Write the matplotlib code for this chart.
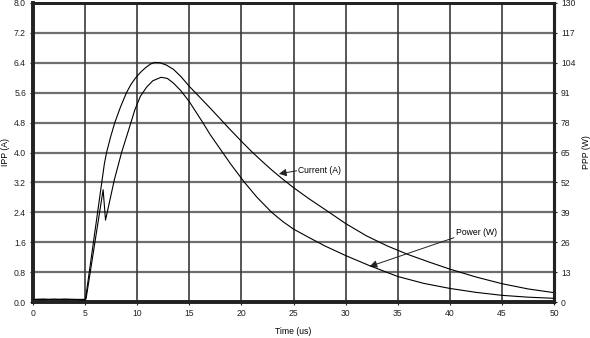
import matplotlib
matplotlib.use("Agg")
import matplotlib.pyplot as plt

plt.rcParams['font.family'] = ['Liberation Sans', 'DejaVu Sans']

# Peak pulse current (A) versus time (us)
t_current = [0, 1, 2, 3, 4, 5.0, 5.05, 6.85, 7.06, 7.45, 7.85, 8.4, 8.97, 9.4, 9.8,
             10.3, 10.8, 11.3, 11.7, 12.2, 12.8, 13.5, 14.2, 15.0, 16.0, 17.0, 18.0,
             19.0, 20.0, 21.0, 22.0, 23.0, 24.0, 25.0, 26.5, 28.0, 30.0, 32.0, 34.0,
             36.0, 38.0, 40.0, 42.5, 45.0, 47.5, 50.0]
current_a = [0.07, 0.08, 0.06, 0.08, 0.07, 0.07, 0.10, 3.70, 4.00, 4.42, 4.80, 5.22,
             5.60, 5.82, 5.98, 6.14, 6.27, 6.37, 6.41, 6.40, 6.34, 6.22, 6.03, 5.77,
             5.48, 5.19, 4.89, 4.59, 4.30, 4.02, 3.76, 3.51, 3.28, 3.06, 2.76, 2.48,
             2.10, 1.77, 1.50, 1.27, 1.07, 0.88, 0.67, 0.49, 0.35, 0.25]

# Peak pulse power (W) versus time (us)
t_power = [0, 1, 2, 3, 4, 5.0, 5.1, 6.73, 6.96, 7.8, 8.5, 9.2, 9.77, 10.3, 10.9,
           11.5, 12.3, 12.9, 13.5, 14.2, 15.0, 15.6, 16.3, 17.0, 18.0, 19.0, 20.3,
           21.5, 22.9, 24.0, 25.0, 26.5, 28.0, 30.0, 32.3, 35.0, 37.5, 40.0, 42.5,
           45.0, 47.5, 50.0]
power_w = [1.1, 1.0, 1.3, 1.0, 1.1, 0.8, 1.6, 48.8, 35.6, 53.0, 65.0, 75.1, 83.5,
           89.4, 93.4, 96.2, 97.7, 97.2, 95.1, 91.8, 87.1, 82.9, 78.0, 72.8, 66.3,
           59.8, 52.0, 45.5, 39.0, 34.9, 31.7, 28.0, 24.4, 20.2, 15.8, 11.1, 8.1,
           5.9, 4.2, 2.9, 2.1, 1.6]

x_ticks = list(range(0, 55, 5))
ipp_ticks = [0.0, 0.8, 1.6, 2.4, 3.2, 4.0, 4.8, 5.6, 6.4, 7.2, 8.0]
ppp_ticks = [0, 13, 26, 39, 52, 65, 78, 91, 104, 117, 130]

fig = plt.figure(figsize=(5.9, 3.38), dpi=100)
ax = fig.add_axes([33 / 590, 36 / 338, 521 / 590, 299 / 338])
ax2 = ax.twinx()

ax.set_xlim(0, 50)
ax.set_ylim(0, 8)
ax2.set_ylim(0, 130)

ax.set_xticks(x_ticks)
ax.set_yticks(ipp_ticks)
ax.set_yticklabels([f"{v:.1f}" for v in ipp_ticks])
ax2.set_yticks(ppp_ticks)

# grid: grey horizontals, darker verticals
for yv in ipp_ticks[1:-1]:
    ax.axhline(yv, color='#6e6e6e', lw=1.6, zorder=1)
for xv in x_ticks[1:-1]:
    ax.axvline(xv, color='#3a3a3a', lw=1.2, zorder=1)

ax.plot(t_current, current_a, color='black', lw=0.8, zorder=3)
ax2.plot(t_power, power_w, color='black', lw=0.8, zorder=3)

for side, w in (('left', 2.6), ('bottom', 2.6), ('right', 2.2), ('top', 2.0)):
    for a in (ax, ax2):
        a.spines[side].set_linewidth(w)
        a.spines[side].set_color('#222222')

ax.tick_params(axis='both', labelsize=6.2, length=2, width=0.8, pad=3,
               colors='#222222')
ax2.tick_params(axis='y', labelsize=6.2, length=2, width=0.8, pad=3,
                colors='#222222')

ax.set_xlabel("Time (us)", fontsize=6.2)
ax.set_ylabel("IPP (A)", fontsize=6.2)
ax2.set_ylabel("PPP (W)", fontsize=6.2)
ax.xaxis.set_label_coords(0.5, -0.084)
ax.yaxis.set_label_coords(-0.045, 0.5)
ax2.yaxis.set_label_coords(1.053, 0.5)

arrow = dict(arrowstyle='-|>', color='#222222', lw=0.7, mutation_scale=11,
             shrinkA=0, shrinkB=0)
ax.annotate("", xy=(23.6, 3.43), xytext=(25.3, 3.51), arrowprops=arrow, zorder=4)
ax.text(25.4, 3.53, "Current (A)", fontsize=6.2, va='center', ha='left', zorder=4)
ax.annotate("", xy=(32.3, 0.95), xytext=(40.4, 1.72), arrowprops=arrow, zorder=4)
ax.text(40.6, 1.74, "Power (W)", fontsize=6.2, va='bottom', ha='left', zorder=4)

fig.savefig("out.png", dpi=100)
